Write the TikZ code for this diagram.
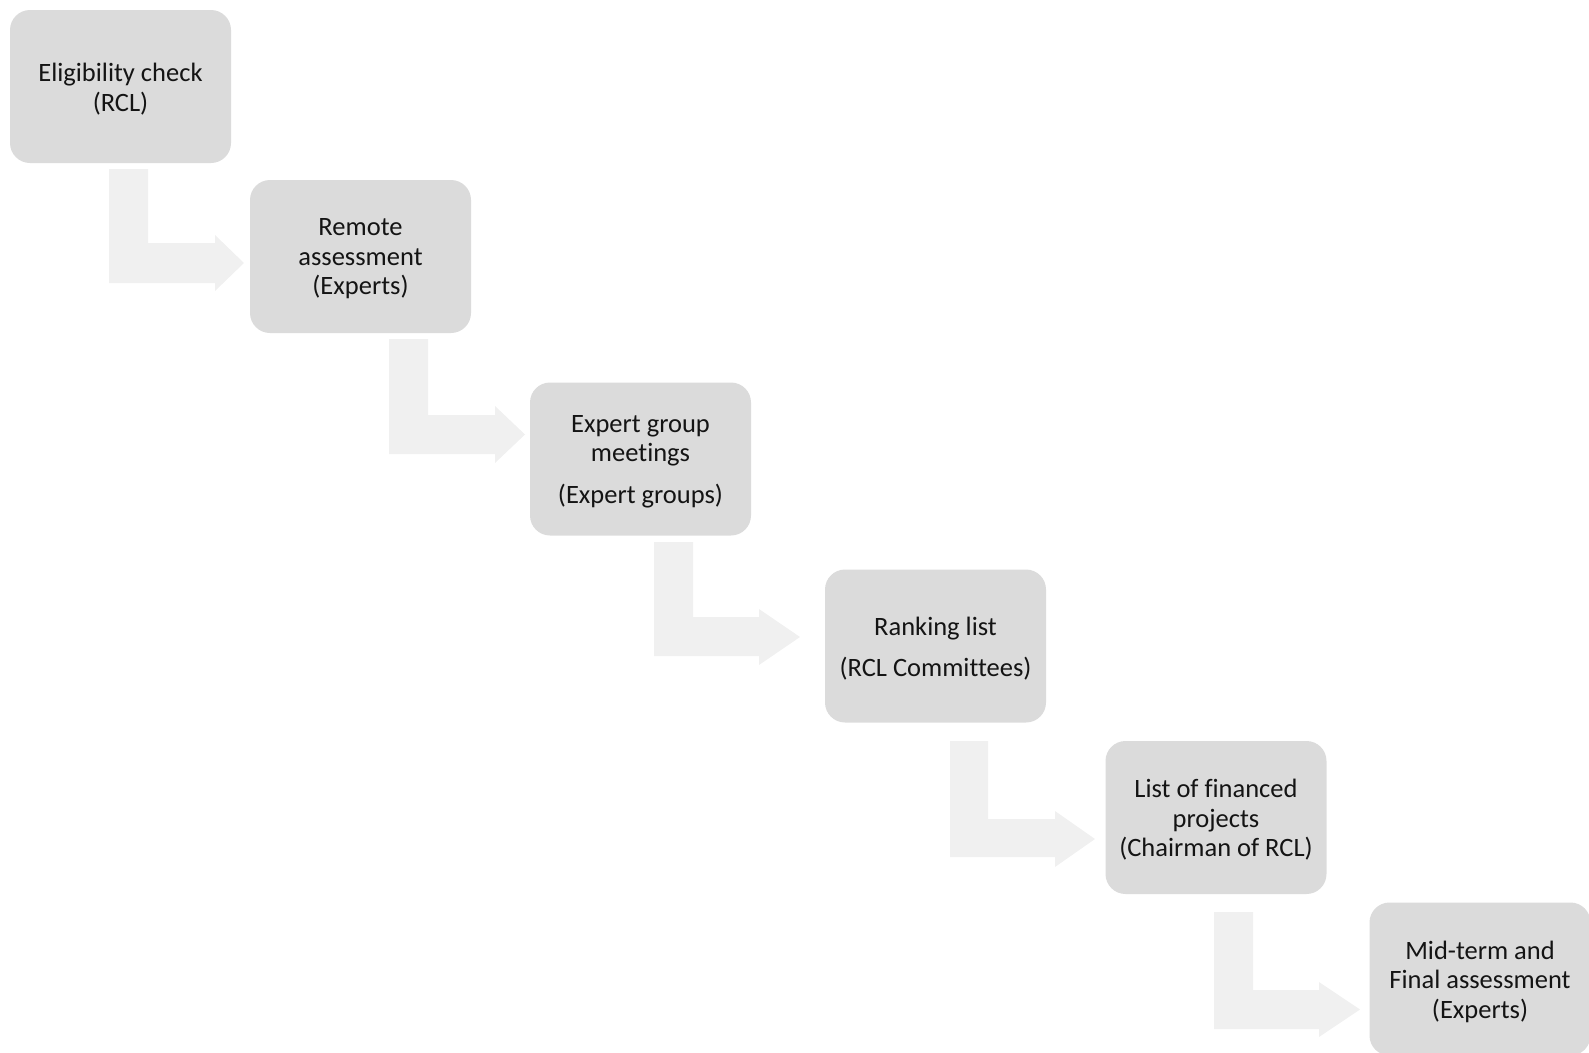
\documentclass[tikz,border=0pt]{standalone}
\usepackage{fontspec}
\setmainfont[Ligatures=NoCommon]{Carlito}
\definecolor{boxgray}{RGB}{219,219,219}
\definecolor{arrowgray}{RGB}{240,240,240}
\definecolor{textblack}{RGB}{20,20,20}
\tikzset{
  stepbox/.style={draw=none, fill=boxgray, rounded corners=20pt,
    minimum width=221pt, minimum height=153pt, inner sep=0pt},
  steptext/.style={inner sep=0pt, align=center, text=textblack,
    font=\fontsize{26.5}{29.5}\selectfont, yshift=-2.5pt},
  bentarrow/.style={fill=arrowgray, draw=none}
}
\newcommand{\bentarr}[9]{%
  % #1 vx1, #2 vx2, #3 top, #4 bottom, #5 htop, #6 headstart, #7 headtop, #8 headbottom, #9 tip
  \fill[bentarrow] (#1,#3) -- (#2,#3) -- (#2,#5) -- (#6,#5) -- (#6,#7)
    -- (#9,{(#7+#8)/2}) -- (#6,#8) -- (#6,#4) -- (#1,#4) -- cycle;}
\begin{document}
\begin{tikzpicture}[x=1pt,y=-1pt]
\useasboundingbox (0,0) rectangle (1589,1052);
\begin{scope}
\clip (0,0) rectangle (1589,1052);
% connectors (bent block arrows)
\bentarr{109}{148}{169}{283}{243}{215}{235}{291}{244}
\bentarr{389}{428}{339}{454}{415}{495}{406}{463}{525}
\bentarr{654}{693}{542}{656}{617}{759}{609}{665}{800}
\bentarr{950}{988}{741}{857}{819}{1055}{811}{867}{1095}
\bentarr{1214}{1253}{912}{1029}{990}{1319}{982}{1037}{1360}
% boxes
\node[stepbox, label={[steptext]center:{Eligibility check\\(RCL)}}] (b1) at (120.5,86.5) {};
\node[stepbox, label={[steptext]center:{Remote\\assessment\\(Experts)}}] (b2) at (360.5,256.5) {};
\node[stepbox, label={[steptext]center:{Expert group\\meetings\\[12pt](Expert groups)}}] (b3) at (640.5,459) {};
\node[stepbox, label={[steptext]center:{Ranking list\\[11pt](RCL Committees)}}] (b4) at (935.5,646) {};
\node[stepbox, label={[steptext]center:{List of financed\\projects\\(Chairman of RCL)}}] (b5) at (1216,817.5) {};
\node[stepbox, label={[steptext]center:{Mid-term and\\Final assessment\\(Experts)}}] (b6) at (1480,979) {};
\end{scope}
\end{tikzpicture}
\end{document}
